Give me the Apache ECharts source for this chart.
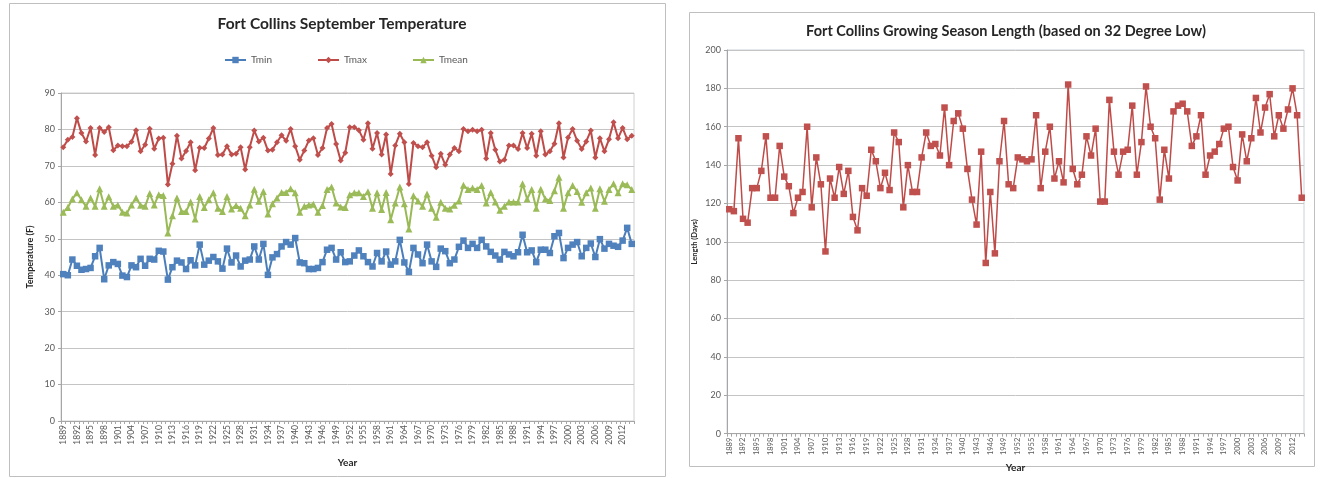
<!DOCTYPE html>
<html><head><meta charset="utf-8">
<script src="https://cdn.jsdelivr.net/npm/echarts/dist/echarts.min.js"></script>
<style>html,body{margin:0;padding:0;background:#fff}#c{width:1320px;height:478px}</style>
</head><body><div id="c"></div>
<script>
const years = ['1889','1890','1891','1892','1893','1894','1895','1896','1897','1898',
'1899','1900','1901','1902','1903','1904','1905','1906','1907','1908',
'1909','1910','1911','1912','1913','1914','1915','1916','1917','1918',
'1919','1920','1921','1922','1923','1924','1925','1926','1927','1928',
'1929','1930','1931','1932','1933','1934','1935','1936','1937','1938',
'1939','1940','1941','1942','1943','1944','1945','1946','1947','1948',
'1949','1950','1951','1952','1953','1954','1955','1956','1957','1958',
'1959','1960','1961','1962','1963','1964','1965','1966','1967','1968',
'1969','1970','1971','1972','1973','1974','1975','1976','1977','1978',
'1979','1980','1981','1982','1983','1984','1985','1986','1987','1988',
'1989','1990','1991','1992','1993','1994','1995','1996','1997','1998',
'1999','2000','2001','2002','2003','2004','2005','2006','2007','2008',
'2009','2010','2011','2012','2013','2014'];

const tmin = [40.3,40.0,44.3,42.6,41.5,41.7,42.0,45.2,47.5,38.9,
42.7,43.6,43.1,39.9,39.5,42.7,42.2,44.5,42.6,44.5,
44.3,46.7,46.5,38.8,42.2,44.0,43.5,41.7,44.1,42.7,
48.4,42.9,44.0,45.0,43.8,41.8,47.3,43.5,45.4,42.4,
44.0,44.3,47.9,44.3,48.6,40.1,44.9,45.8,47.9,49.1,
48.4,50.2,43.5,43.3,41.7,41.7,42.0,43.6,47.0,47.5,
44.3,46.3,43.6,43.8,45.4,46.8,45.2,43.6,42.4,46.1,
43.8,46.5,42.9,43.8,49.7,43.5,40.9,47.5,45.7,43.3,
48.4,43.8,42.3,47.3,46.6,43.3,44.3,47.8,49.5,47.5,
48.6,47.5,49.7,47.9,46.4,45.4,44.3,46.4,45.7,45.2,
46.3,51.1,46.3,46.8,43.6,47.0,47.0,46.1,50.7,51.6,
44.7,47.5,48.4,49.1,45.2,47.5,48.7,45.0,49.9,47.3,
48.6,48.1,47.8,49.5,53.0,48.6];

const tmax = [75.1,77.2,77.9,83.1,79.0,76.7,80.4,73.0,80.4,79.3,
80.6,74.3,75.6,75.4,75.4,76.6,79.8,74.0,75.8,80.2,
74.7,77.5,77.7,64.9,70.6,78.3,72.0,74.1,76.5,68.8,
75.0,74.9,77.5,80.4,73.0,73.1,75.4,73.1,73.3,75.1,
69.0,75.1,79.7,76.7,77.7,74.2,74.4,76.5,78.4,76.9,
80.1,75.4,71.7,74.2,77.0,77.6,73.0,74.9,80.4,81.5,
76.0,71.5,73.6,80.6,80.6,79.8,77.2,81.7,74.7,79.0,
73.1,78.6,67.8,75.6,78.8,76.5,65.0,76.3,75.4,75.1,
76.5,72.8,69.6,73.3,70.3,73.1,74.9,74.0,80.1,79.5,
79.9,79.5,79.9,72.0,79.0,74.4,71.2,71.7,75.6,75.6,
74.6,79.0,74.9,78.8,72.8,79.5,73.1,74.0,76.1,81.7,
72.3,77.8,80.1,76.9,74.6,76.7,79.7,72.3,77.6,74.0,
77.3,82.0,77.6,80.4,77.3,78.3];

const tmean = [57.3,58.6,60.9,62.6,60.7,58.9,61.2,58.9,63.7,58.9,
61.5,58.9,59.3,57.3,57.1,59.3,61.2,59.2,58.9,62.4,
59.3,62.1,61.9,51.6,56.3,61.2,57.5,57.5,60.1,55.4,
61.6,58.6,60.7,62.6,58.4,57.5,61.6,58.2,59.1,58.4,
56.3,59.3,63.6,60.3,63.0,56.8,59.6,61.2,62.7,62.7,
63.7,62.6,57.3,58.9,59.3,59.5,57.3,59.1,63.5,64.2,
59.8,58.7,58.6,62.1,62.6,62.6,61.6,62.9,58.4,62.6,
58.0,62.7,55.2,59.8,64.2,59.6,52.7,61.8,60.4,58.9,
62.3,58.4,55.9,60.0,58.4,58.2,59.2,60.4,64.7,63.5,
63.9,63.5,64.6,59.8,62.7,60.1,57.8,58.9,60.1,60.1,
60.1,65.1,60.9,63.5,58.4,63.6,60.9,60.5,63.2,66.9,
58.4,62.6,64.6,63.0,60.0,62.6,63.9,58.4,63.7,60.3,
63.5,65.1,62.6,65.1,64.8,63.5];

const seasonLength = [117,116,154,112,110,128,128,137,155,123,
123,150,134,129,115,123,126,160,118,144,
130,95,133,123,139,125,137,113,106,128,
124,148,142,128,136,127,157,152,118,140,
126,126,144,157,150,151,145,170,140,163,
167,159,138,122,109,147,89,126,94,142,
163,130,128,144,143,142,143,166,128,147,
160,133,142,131,182,138,130,135,155,145,
159,121,121,174,147,135,147,148,171,135,
152,181,160,154,122,148,133,168,171,172,
168,150,155,166,135,145,147,151,159,160,
139,132,156,142,154,175,157,170,177,155,
166,159,169,180,166,123];

const FONT = 'Lato, "Liberation Sans", sans-serif';
const GRID = '#C4C4C4';
const AXIS = '#A6A6A6';
const LABEL = '#595959';

const chart = echarts.init(document.getElementById('c'), null, {renderer:'canvas'});

function xAxisCfg(gi, gap, fs){
  return {
    type:'category', gridIndex:gi, data:years, boundaryGap:true,
    axisLine:{show:true, lineStyle:{color:AXIS, width:1}},
    axisTick:{show:true, interval:0, length:3, lineStyle:{color:AXIS}},
    axisLabel:{interval:2, rotate:90, fontSize:fs, color:LABEL, margin:4, fontFamily:FONT},
    splitLine:{show:false},
    name:'Year', nameLocation:'middle', nameGap:gap,
    nameTextStyle:{fontWeight:'bold', fontSize:10, color:'#262626', fontFamily:FONT}
  };
}
function yAxisCfg(gi, max, interval, name, gap, nfs){
  return {
    type:'value', gridIndex:gi, min:0, max:max, interval:interval,
    axisLine:{show:true, lineStyle:{color:AXIS}},
    axisTick:{show:true, length:3, lineStyle:{color:AXIS}},
    axisLabel:{fontSize:9, color:LABEL, margin:6, fontFamily:FONT},
    splitLine:{show:true, lineStyle:{color:GRID, width:1}},
    name:name, nameLocation:'middle', nameGap:gap, nameRotate:90,
    nameTextStyle:{fontWeight:'bold', fontSize:nfs, color:'#262626', fontFamily:FONT}
  };
}

const legendText = {fontSize:10, color:LABEL, fontFamily:FONT};
const option = {
  animation:false,
  backgroundColor:'#fff',
  textStyle:{fontFamily:FONT},
  title:[
    {text:'Fort Collins September Temperature', left:337, top:11, textAlign:'center',
     textStyle:{fontSize:15.5, fontWeight:'bold', color:'#262626', fontFamily:FONT}},
    {text:'Fort Collins Growing Season Length (based on 32 Degree Low)', left:1001, top:19, textAlign:'center',
     textStyle:{fontSize:14.5, fontWeight:'bold', color:'#262626', fontFamily:FONT}}
  ],
  legend:[
    {data:['Tmin'], left:219, top:50, itemWidth:21, itemHeight:8, textStyle:legendText},
    {data:['Tmax'], left:312, top:50, itemWidth:21, itemHeight:8, textStyle:legendText},
    {data:['Tmean'], left:407, top:50, itemWidth:21, itemHeight:8, textStyle:legendText}
  ],
  grid:[
    {left:61, top:93, width:573, height:328, show:true, borderColor:'#D0D0D0', borderWidth:1, backgroundColor:'transparent'},
    {left:727, top:50, width:577, height:386, show:true, borderColor:'#C9D2DA', borderWidth:1, backgroundColor:'transparent'}
  ],
  xAxis:[xAxisCfg(0, 37, 8.5), xAxisCfg(1, 20, 7.5)],
  yAxis:[yAxisCfg(0, 90, 10, 'Temperature (F)', 26, 9), yAxisCfg(1, 200, 20, 'Length (Days)', 28, 7.5)],
  graphic:[
    {type:'rect', shape:{x:9.5, y:3.5, width:656, height:473}, style:{fill:'none', stroke:'#BFBFBF', lineWidth:1}, z:-1},
    {type:'rect', shape:{x:689.5, y:12.5, width:625, height:454}, style:{fill:'none', stroke:'#BFBFBF', lineWidth:1}, z:-1}
  ],
  series:[
    {name:'Tmin', type:'line', xAxisIndex:0, yAxisIndex:0, data:tmin, symbol:'rect', symbolSize:6.5, showAllSymbol:true,
     lineStyle:{color:'#4A7EBB', width:2}, itemStyle:{color:'#4F81BD'}},
    {name:'Tmax', type:'line', xAxisIndex:0, yAxisIndex:0, data:tmax, symbol:'diamond', symbolSize:6, showAllSymbol:true,
     lineStyle:{color:'#BE4B48', width:2}, itemStyle:{color:'#C0504D'}},
    {name:'Tmean', type:'line', xAxisIndex:0, yAxisIndex:0, data:tmean, symbol:'triangle', symbolSize:7, showAllSymbol:true,
     lineStyle:{color:'#98B954', width:2}, itemStyle:{color:'#9BBB59'}},
    {name:'Length', type:'line', xAxisIndex:1, yAxisIndex:1, data:seasonLength, symbol:'rect', symbolSize:6.5, showAllSymbol:true,
     lineStyle:{color:'#BE4B48', width:1.5}, itemStyle:{color:'#C0504D'}}
  ]
};
chart.setOption(option);
</script></body></html>
